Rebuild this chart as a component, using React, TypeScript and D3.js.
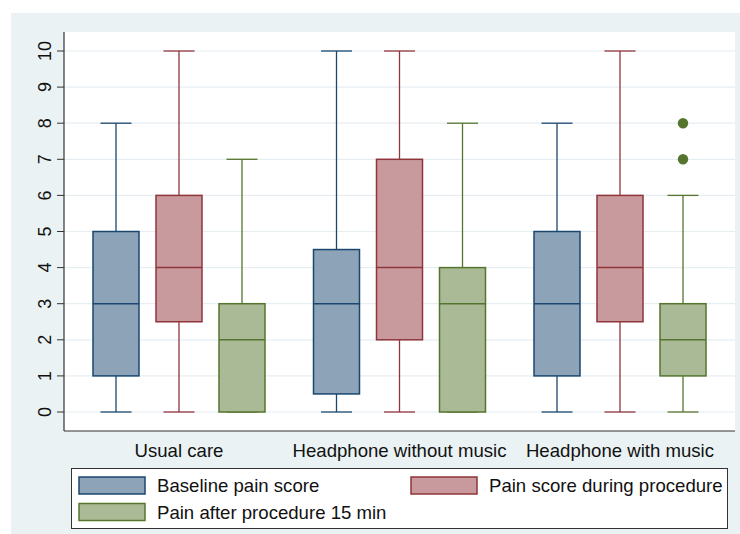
import React from "react";
import * as d3 from "d3";

const groups = ["Usual care", "Headphone without music", "Headphone with music"];
const seriesNames = ["Baseline pain score", "Pain score during procedure", "Pain after procedure 15 min"];
// [min, q1, median, q3, max] per group
const baseline = [
  [0, 1, 3, 5, 8],
  [0, 0.5, 3, 4.5, 10],
  [0, 1, 3, 5, 8],
];
const during = [
  [0, 2.5, 4, 6, 10],
  [0, 2, 4, 7, 10],
  [0, 2.5, 4, 6, 10],
];
const after15 = [
  [0, 0, 2, 3, 7],
  [0, 0, 3, 4, 8],
  [0, 1, 2, 3, 6],
];
const outliersAfter = [[], [], [7, 8]];
const yTicks = [0, 1, 2, 3, 4, 5, 6, 7, 8, 9, 10];

const strokeColors = ["#1a476f", "#90353b", "#55752f"];
const fillColors = ["#8ca3b8", "#c89a9d", "#aaba97"];

export default function App() {
  const W = 740, H = 534;
  const left = 64, right = 735, top = 32, bottom = 431;
  const y = d3.scaleLinear().domain([0, 10]).range([412, 51]);
  const xg = d3.scalePoint<string>().domain(groups).range([left, right]).padding(0.5215);
  const xs = d3.scalePoint<string>().domain(seriesNames).range([-63, 63]);
  const boxW = 46, capW = 31;
  const allSeries = [baseline, during, after15];
  const outliers = [[[], [], []], [[], [], []], outliersAfter];
  const font = "'Liberation Sans', Arial, Helvetica, sans-serif";

  return (
    <svg width={W} height={H} style={{ position: "absolute", left: 0, top: 0, fontFamily: font }}>
      <rect x={0} y={0} width={W} height={H} fill="#ffffff" />
      <rect x={11} y={13} width={W - 11} height={H - 13} fill="#eaf2f3" />
      <rect x={left} y={top} width={right - left} height={bottom - top} fill="#ffffff" />
      {yTicks.map((t) => (
        <g key={t}>
          <line x1={left} x2={right} y1={y(t)} y2={y(t)} stroke="#e6eef2" strokeWidth={1.2} />
          <line x1={57} x2={left} y1={y(t)} y2={y(t)} stroke="#333" strokeWidth={1} />
          <text
            transform={`translate(50.5,${y(t)}) rotate(-90)`}
            textAnchor="middle"
            fontSize={18}
            fill="#111"
          >
            {t}
          </text>
        </g>
      ))}
      <line x1={left} x2={left} y1={top} y2={bottom} stroke="#333" strokeWidth={1.2} />
      <line x1={left} x2={right} y1={bottom} y2={bottom} stroke="#333" strokeWidth={1.2} />
      {groups.map((g, gi) => (
        <g key={g}>
          {allSeries.map((s, si) => {
            const [mn, q1, md, q3, mx] = s[gi];
            const cx = (xg(g) as number) + (xs(seriesNames[si]) as number);
            const sc = strokeColors[si];
            return (
              <g key={si}>
                <line x1={cx} x2={cx} y1={y(mx)} y2={y(q3)} stroke={sc} strokeWidth={1.3} />
                <line x1={cx} x2={cx} y1={y(q1)} y2={y(mn)} stroke={sc} strokeWidth={1.3} />
                <line x1={cx - capW / 2} x2={cx + capW / 2} y1={y(mx)} y2={y(mx)} stroke={sc} strokeWidth={1.3} />
                <line x1={cx - capW / 2} x2={cx + capW / 2} y1={y(mn)} y2={y(mn)} stroke={sc} strokeWidth={1.3} />
                <rect
                  x={cx - boxW / 2}
                  y={y(q3)}
                  width={boxW}
                  height={y(q1) - y(q3)}
                  fill={fillColors[si]}
                  stroke={sc}
                  strokeWidth={1.5}
                />
                <line x1={cx - boxW / 2} x2={cx + boxW / 2} y1={y(md)} y2={y(md)} stroke={sc} strokeWidth={1.5} />
                {(outliers[si][gi] as number[]).map((o, oi) => (
                  <circle key={oi} cx={cx} cy={y(o)} r={5.2} fill={sc} />
                ))}
              </g>
            );
          })}
          <text x={xg(g)} y={456.5} textAnchor="middle" fontSize={18.6} fill="#111">
            {g}
          </text>
        </g>
      ))}
      <rect x={71.5} y={468.5} width={656} height={60} fill="#ffffff" stroke="#333" strokeWidth={1} />
      {seriesNames.map((s, si) => {
        const col = si === 1 ? 1 : 0;
        const row = si === 2 ? 1 : 0;
        const sx = col === 0 ? 79 : 411;
        const sy = row === 0 ? 477 : 503.5;
        return (
          <g key={s}>
            <rect x={sx} y={sy} width={66} height={17} fill={fillColors[si]} stroke={strokeColors[si]} strokeWidth={1.5} />
            <text x={sx + 78} y={sy + 15} fontSize={18.6} fill="#111">
              {s}
            </text>
          </g>
        );
      })}
    </svg>
  );
}
